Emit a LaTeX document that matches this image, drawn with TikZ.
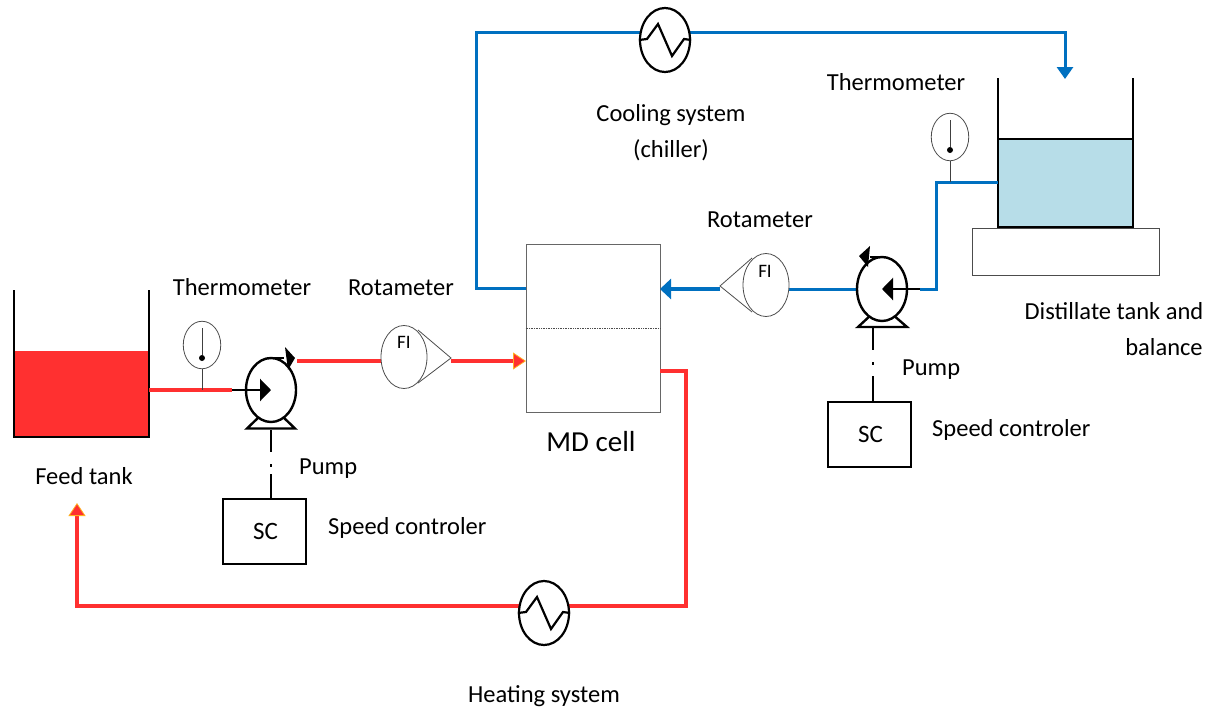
\documentclass[tikz,border=0pt]{standalone}
\usepackage{fontspec}
\setmainfont{Carlito}
\usetikzlibrary{shapes.geometric,arrows.meta}
\definecolor{hotred}{HTML}{FF3030}
\definecolor{hotedge}{HTML}{FFB020}
\definecolor{coldblue}{HTML}{0070C0}
\definecolor{tankblue}{HTML}{B7DDE8}
\tikzset{
 lbl/.style={font=\fontsize{24.5}{30}\selectfont,inner sep=0pt,text=black},
 fitxt/.style={font=\fontsize{19}{20}\selectfont,inner sep=0pt,text=black},
 redline/.style={hotred,line width=3.6pt,line join=miter},
 rededge/.style={hotedge,line width=4.2pt,line join=miter},
 redarrow/.style={-{Triangle[length=13pt,width=17pt,fill=hotred,color=hotedge,line width=.8pt]},hotred,line width=3.6pt},
 blueline/.style={coldblue,line width=3pt,line join=miter},
 bluearrow/.style={-{Triangle[length=11pt,width=20pt]},coldblue,line width=3.4pt},
 bluedrop/.style={-{Triangle[length=12pt,width=16pt]},coldblue,line width=3pt},
 thermo/.style={ellipse,draw=black!70,line width=.8pt,fill=white,minimum width=37.5pt,minimum height=47.5pt,inner sep=0pt},
 stem/.style={draw=black!75,line width=.9pt},
 fi/.style={ellipse,draw=black!70,line width=.8pt,fill=white,minimum width=46pt,minimum height=63pt,inner sep=0pt},
 pumpbody/.style={ellipse,draw=black,line width=2.4pt,fill=white,minimum width=50pt,minimum height=64pt,inner sep=0pt},
 hx/.style={ellipse,draw=black,line width=2.2pt,fill=white,minimum width=50pt,minimum height=64pt,inner sep=0pt},
 ctrl/.style={rectangle,draw=black,line width=1.5pt,minimum width=83pt,minimum height=65pt,inner sep=0pt,font=\fontsize{25}{30}\selectfont},
 wall/.style={draw=black,line width=1.6pt},
 blackline/.style={draw=black,line width=2.4pt},
 pumparrow/.style={-{Triangle[length=11pt,width=22pt]},black,line width=2.4pt},
 dotdash/.style={draw=black,line width=1.6pt},
 zig/.style={draw=black,line width=2.2pt,line join=miter},
 bulb/.style={circle,fill=black,minimum size=6pt,inner sep=0pt},
}
\begin{document}
\begin{tikzpicture}[x=1pt,y=-1pt]
\useasboundingbox (0,0) rectangle (1210,710);
% tanks
\fill[hotred] (14,351) rectangle (149,437);
\draw[wall] (14,290) -- (14,437) -- (149,437) -- (149,290);
\node[rectangle,draw=black!70,line width=1pt,minimum width=187pt,minimum height=47pt,inner sep=0pt] (balance) at (1065.5,251.5) {};
\fill[tankblue] (998,139) rectangle (1133,227);
\draw[wall] (998,78) -- (998,227) -- (1133,227) -- (1133,78);
\draw[black,line width=1.2pt] (998,139) -- (1133,139);
% MD cell
\node[rectangle,draw=black!60,line width=1pt,minimum width=134pt,minimum height=168pt,inner sep=0pt] (cell) at (593,328) {};
\draw[black!70,line width=.7pt,densely dotted] (cell.west) -- (cell.east);
% junctions
\coordinate (feedout) at (149,390);
\coordinate (t1tee) at (202,390);
\coordinate (p1in) at (232,390);
\coordinate (p1out) at (297,361);
\coordinate (fi1in) at (381,361);
\coordinate (fi1tip) at (451,361);
\coordinate (cellinA) at (526,361);
\coordinate (cellR) at (660,371);
\coordinate (turnA) at (686,371);
\coordinate (turnB) at (686,606);
\coordinate (h1R) at (569,606);
\coordinate (h1L) at (519,606);
\coordinate (turnC) at (77,606);
\coordinate (feedin) at (77,503);
\coordinate (cellL) at (526,288);
\coordinate (turnD) at (476,288);
\coordinate (turnE) at (476,32);
\coordinate (c1L) at (641,32);
\coordinate (c1R) at (690,32);
\coordinate (turnF) at (1065,32);
\coordinate (distin) at (1065,79);
\coordinate (distout) at (998,182);
\coordinate (t2tee) at (950,182);
\coordinate (turnG) at (936,182);
\coordinate (turnH) at (936,289);
\coordinate (p2in) at (920,289);
\coordinate (p2out) at (857,289);
\coordinate (fi2out) at (789,289);
\coordinate (fi2tip) at (720,289);
\coordinate (cellinB) at (660,289);
% pipes
\draw[redline] (feedout) -- (p1in);
\draw[rededge] (p1out) -- (fi1in);
\draw[redline] (p1out) -- (fi1in);
\draw[redarrow] (fi1tip) -- (cellinA);
\draw[rededge] (cellR) -- (turnA) -- (turnB) -- (h1R);
\draw[redline] (cellR) -- (turnA) -- (turnB) -- (h1R);
\draw[redline] (h1L) -- (turnC) -- (77,515);
\draw[redarrow] (77,520) -- (feedin);
\draw[blueline] (cellL) -- (turnD) -- (turnE) -- (c1L);
\draw[blueline] (c1R) -- (turnF) -- (1065,66);
\draw[bluedrop] (1065,64) -- (distin);
\draw[blueline] (distout) -- (turnG) -- (turnH) -- (p2in);
\draw[blueline] (p2out) -- (fi2out);
\draw[bluearrow] (fi2tip) -- (cellinB);
% thermometers
\node[thermo] (t1) at (202,345) {};
\node[bulb] (b1) at (202,358) {};
\draw[stem] (202,328) -- (b1);
\draw[stem] (t1) -- (t1tee);
\node[thermo] (t2) at (950,137) {};
\node[bulb] (b2) at (950,150) {};
\draw[stem] (950,120) -- (b2);
\draw[stem] (t2) -- (t2tee);
% rotameters
\draw[black!70,line width=.8pt,line join=miter] (418,330) -- (451,358) -- (418,383);
\node[fi] (fi1) at (404,357) {};
\node[fitxt] (fi1t) at (404,342) {FI};
\draw[black!70,line width=.8pt,line join=miter] (752,258) -- (720,286) -- (752,312);
\node[fi] (fi2) at (766,285) {};
\node[fitxt] (fi2t) at (765,271) {FI};
% pump 1
\draw[blackline,line join=miter] (261,415) -- (247,428.5) -- (295,428.5) -- (281,415);
\node[pumpbody] (p1) at (271,390) {};
\draw[pumparrow] (p1in) -- (p1.center);
\draw[blackline] (267,358) -- (284,358);
\fill[black] (285,347) -- (295,358) -- (288,370) -- cycle;
% pump 2
\draw[blackline,line join=miter] (872,314) -- (858,327) -- (907,327) -- (892,314);
\node[pumpbody] (p2) at (882,289) {};
\draw[pumparrow] (p2in) -- (p2.center);
\draw[blackline] (886,257) -- (870,257);
\fill[black] (870,246) -- (859,256) -- (868,267) -- cycle;
% speed controllers
\node[ctrl,text depth=0pt] (sc1) at (264.5,531.5) {\hspace{2pt}SC};
\node[ctrl,text depth=0pt] (sc2) at (869.5,434.5) {\hspace{2pt}SC};
\coordinate (d1) at (271,499);
\coordinate (d2) at (873,402);
\draw[dotdash] (271,430) -- (271,452);
\draw[dotdash] (271,464) -- (271,467);
\draw[dotdash] (271,474) -- (d1);
\draw[dotdash] (873,328) -- (873,350);
\draw[dotdash] (873,362) -- (873,365);
\draw[dotdash] (873,376) -- (d2);
% heat exchangers
\node[hx] (cool) at (665,40) {};
\draw[zig] (cool.west) -- (647,39) -- (658,24) -- (672,56) -- (684,39) -- (cool.east);
\node[hx] (heat) at (544,613) {};
\draw[zig] (heat.west) -- (526,612) -- (537,597) -- (551,629) -- (563,612) -- (heat.east);
% labels
\node[lbl] (l1) at (242,287.5) {Thermometer};
\node[lbl] (l2) at (401,288) {Rotameter};
\node[lbl] (l3) at (84,476) {Feed tank};
\node[lbl,anchor=west] (l4) at (299,468.5) {Pump};
\node[lbl,anchor=west] (l5) at (328,528) {Speed controler};
\node[lbl,font=\fontsize{29}{32}\selectfont] (l6) at (591,442) {MD cell};
\node[lbl] (l7) at (544,696) {Heating system};
\node[lbl] (l8) at (671,115.5) {Cooling system};
\node[lbl] (l9) at (671,150) {(chiller)};
\node[lbl] (l10) at (896,82.5) {Thermometer};
\node[lbl] (l11) at (760,220) {Rotameter};
\node[lbl] (l12) at (1114,311) {Distillate tank and};
\node[lbl] (l13) at (1164,347) {balance};
\node[lbl,anchor=west] (l14) at (902,370) {Pump};
\node[lbl,anchor=west] (l15) at (932,430) {Speed controler};
\end{tikzpicture}
\end{document}
